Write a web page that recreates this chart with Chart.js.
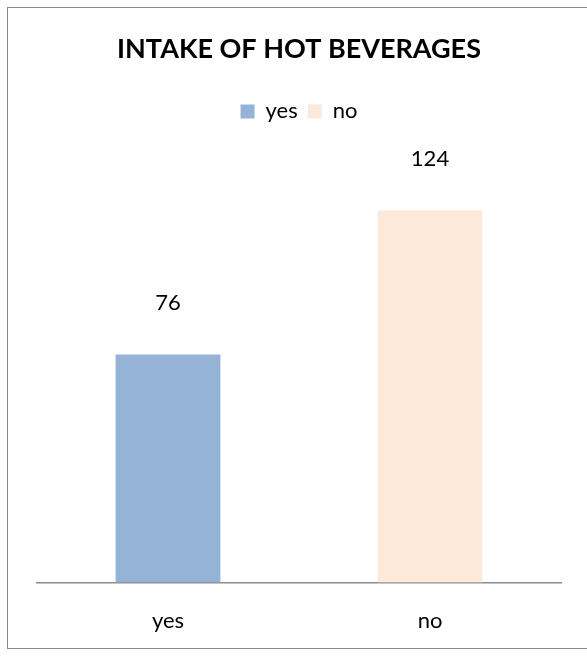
<!DOCTYPE html>
<html>
<head>
<meta charset="utf-8">
<script src="https://cdn.jsdelivr.net/npm/chart.js@4"></script>
<style>
  html, body { margin: 0; padding: 0; background: #fff; }
  #frame { position: absolute; left: 7px; top: 7px; width: 620px; height: 642px; border: 1px solid #8a8a8a; box-sizing: border-box; }
  #wrap { position: absolute; left: 0; top: 0; width: 587px; height: 659px; }
</style>
</head>
<body>
<div id="frame"></div>
<div id="wrap"><canvas id="c" width="587" height="659"></canvas></div>
<script>
const categories = ['yes', 'no'];
const intakeCounts = [76, 124];
const barColors = ['#95b3d7', '#fde9d9'];
const yAxisMax = 150;

const FONT = 'Lato, "Open Sans", sans-serif';

// writes each bar's value above it
const valueLabels = {
  id: 'valueLabels',
  afterDatasetsDraw(chart) {
    const ctx = chart.ctx;
    ctx.save();
    ctx.font = '22px ' + FONT;
    ctx.fillStyle = '#000';
    ctx.textAlign = 'center';
    ctx.textBaseline = 'middle';
    chart.getDatasetMeta(0).data.forEach((bar, i) => {
      ctx.fillText(String(intakeCounts[i]), bar.x, bar.y - 52);
    });
    ctx.restore();
  }
};

new Chart(document.getElementById('c'), {
  type: 'bar',
  data: {
    labels: categories,
    datasets: [{
      label: 'intake',
      data: intakeCounts,
      backgroundColor: barColors,
      borderWidth: 0,
      categoryPercentage: 1,
      barPercentage: 0.4
    }]
  },
  options: {
    responsive: false,
    animation: false,
    layout: { padding: { left: 37, right: 26, top: 0, bottom: 0 } },
    plugins: {
      title: {
        display: true,
        text: 'INTAKE OF HOT BEVERAGES',
        color: '#000',
        font: { family: FONT, size: 27, weight: 'bold' },
        padding: { top: 33, bottom: 25 }
      },
      legend: {
        display: true,
        labels: {
          color: '#000',
          font: { family: FONT, size: 22 },
          boxWidth: 14,
          boxHeight: 14,
          padding: 10,
          generateLabels(chart) {
            return categories.map((c, i) => ({
              text: c,
              fillStyle: barColors[i],
              strokeStyle: barColors[i],
              lineWidth: 0,
              hidden: false,
              index: i
            }));
          }
        },
        onClick: null
      },
      tooltip: { enabled: false }
    },
    scales: {
      x: {
        grid: { display: false, drawTicks: false },
        border: { display: true, color: '#8c8c8c', width: 1.5 },
        ticks: { color: '#000', font: { family: FONT, size: 22 }, padding: 25 }
      },
      y: {
        display: false,
        min: 0,
        max: yAxisMax
      }
    }
  },
  plugins: [valueLabels]
});
</script>
</body>
</html>
